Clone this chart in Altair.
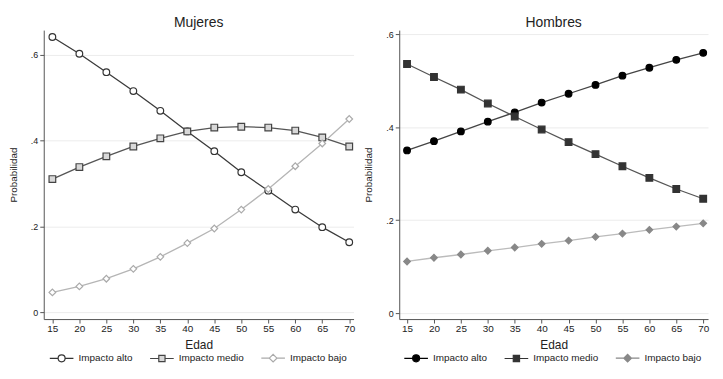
import altair as alt
import pandas as pd

ages = [15, 20, 25, 30, 35, 40, 45, 50, 55, 60, 65, 70]
series = ["Impacto alto", "Impacto medio", "Impacto bajo"]

muj_alto = [0.641, 0.602, 0.559, 0.515, 0.469, 0.421, 0.375, 0.326, 0.283, 0.239, 0.198, 0.163]
muj_medio = [0.310, 0.338, 0.363, 0.386, 0.405, 0.421, 0.430, 0.432, 0.430, 0.423, 0.407, 0.386]
muj_bajo = [0.046, 0.060, 0.078, 0.101, 0.129, 0.161, 0.195, 0.239, 0.287, 0.340, 0.393, 0.450]

hom_alto = [0.350, 0.370, 0.391, 0.412, 0.432, 0.453, 0.472, 0.491, 0.511, 0.528, 0.545, 0.560]
hom_medio = [0.536, 0.508, 0.481, 0.451, 0.423, 0.395, 0.368, 0.342, 0.316, 0.291, 0.267, 0.246]
hom_bajo = [0.111, 0.119, 0.126, 0.134, 0.141, 0.149, 0.156, 0.164, 0.171, 0.179, 0.186, 0.193]

y_ticks = [0, 0.2, 0.4, 0.6]

# legend symbols in Stata style: a short line with the marker in the middle
leg_shapes = [
    "M-3.4,0L-1,0M1,0L3.4,0M-1,0A1,1,0,1,1,1,0A1,1,0,1,1,-1,0Z",
    "M-3.4,0L-0.9,0M0.9,0L3.4,0M-0.9,-0.9L0.9,-0.9L0.9,0.9L-0.9,0.9Z",
    "M-3.4,0L-1.1,0M1.1,0L3.4,0M-1.1,0L0,-1.1L1.1,0L0,1.1Z",
]


def frame(values):
    rows = []
    for name, vals in zip(series, values):
        for a, v in zip(ages, vals):
            rows.append({"Edad": a, "Probabilidad": v, "Serie": name})
    return pd.DataFrame(rows)


df_m = frame([muj_alto, muj_medio, muj_bajo])
df_h = frame([hom_alto, hom_medio, hom_bajo])

FONT = "Liberation Sans"
H = 291


def panel(df, title, line_colors, stroke_colors, fill_colors, shapes, ydom, xdom, legx, w):
    x = alt.X("Edad:Q", scale=alt.Scale(domain=xdom, nice=False, zero=False),
              axis=alt.Axis(values=ages, title="Edad", grid=False, labelFontSize=10,
                            titleFontSize=12, titleFontWeight="normal", labelPadding=1,
                            titlePadding=6, tickSize=4, domainColor="#555",
                            tickColor="#555", labelColor="#222", titleColor="#222",
                            labelFont=FONT, titleFont=FONT))
    y = alt.Y("Probabilidad:Q", scale=alt.Scale(domain=ydom, nice=False, zero=False),
              axis=alt.Axis(values=y_ticks, title="Probabilidad", grid=True,
                            gridColor="#ececec", labelFontSize=9, titleFontSize=10,
                            titleFontWeight="normal", labelPadding=2, tickSize=4,
                            titlePadding=12, domainColor="#555", tickColor="#555",
                            labelColor="#222", titleColor="#222", labelFont=FONT,
                            titleFont=FONT,
                            labelExpr="datum.value == 0 ? '0' : replace(format(datum.value, '.1f'), '0.', '.')"))
    dom = series
    lines = alt.Chart(df).mark_line(strokeWidth=1.3).encode(
        x=x, y=y,
        stroke=alt.Stroke("Serie:N", scale=alt.Scale(domain=dom, range=line_colors), legend=None),
        detail="Serie:N",
    )
    pts = alt.Chart(df).mark_point(size=45, strokeWidth=1.2, opacity=1, filled=False).encode(
        x=x, y=y,
        color=alt.Color("Serie:N", scale=alt.Scale(domain=dom, range=stroke_colors), legend=None),
        fill=alt.Fill("Serie:N", scale=alt.Scale(domain=dom, range=fill_colors), legend=None),
        shape=alt.Shape("Serie:N", scale=alt.Scale(domain=dom, range=shapes), legend=None),
    )
    leg = alt.Legend(orient="none", legendX=legx, legendY=H + 34, direction="horizontal",
                     title=None, labelFontSize=10, labelFont=FONT, labelColor="#222",
                     symbolSize=49, columnPadding=14, labelOffset=12, symbolOpacity=1,
                     symbolStrokeWidth=1.2)
    legend_layer = alt.Chart(df).mark_point(size=45, opacity=0, filled=False).encode(
        x=x, y=y,
        color=alt.Color("Serie:N", scale=alt.Scale(domain=dom, range=stroke_colors), legend=leg,
                        sort=dom),
        fill=alt.Fill("Serie:N", scale=alt.Scale(domain=dom, range=fill_colors), legend=leg,
                      sort=dom),
        shape=alt.Shape("Serie:N", scale=alt.Scale(domain=dom, range=leg_shapes), legend=leg,
                        sort=dom),
    )
    return alt.layer(lines, pts, legend_layer).resolve_scale(
        stroke="independent", color="independent", fill="independent", shape="independent"
    ).properties(
        width=w, height=H,
        title=alt.TitleParams(title, fontSize=14, font=FONT, fontWeight="normal",
                              color="#222", offset=0),
    )


left = panel(df_m, "Mujeres",
             ["#3a3a3a", "#555555", "#b5b5b5"],
             ["#333333", "#444444", "#aaaaaa"],
             ["#ffffff", "#d8d8d8", "#ffffff"],
             ["circle", "square", "diamond"], [-0.016, 0.657], [13.4, 70.8], 13, 312)
right = panel(df_h, "Hombres",
              ["#444444", "#555555", "#bbbbbb"],
              ["#000000", "#333333", "#888888"],
              ["#000000", "#333333", "#888888"],
              ["circle", "square", "diamond"], [-0.013, 0.609], [13.55, 70.9], 12, 311)

chart = alt.hconcat(left, right, spacing=46, bounds="flush").resolve_scale(
    color="independent", fill="independent", shape="independent", stroke="independent"
).configure(padding={"top": 7, "left": 0, "right": 0, "bottom": 0},
            background="white").configure_view(stroke=None)

chart.save("out.html", embed_options={"renderer": "svg", "actions": False})
